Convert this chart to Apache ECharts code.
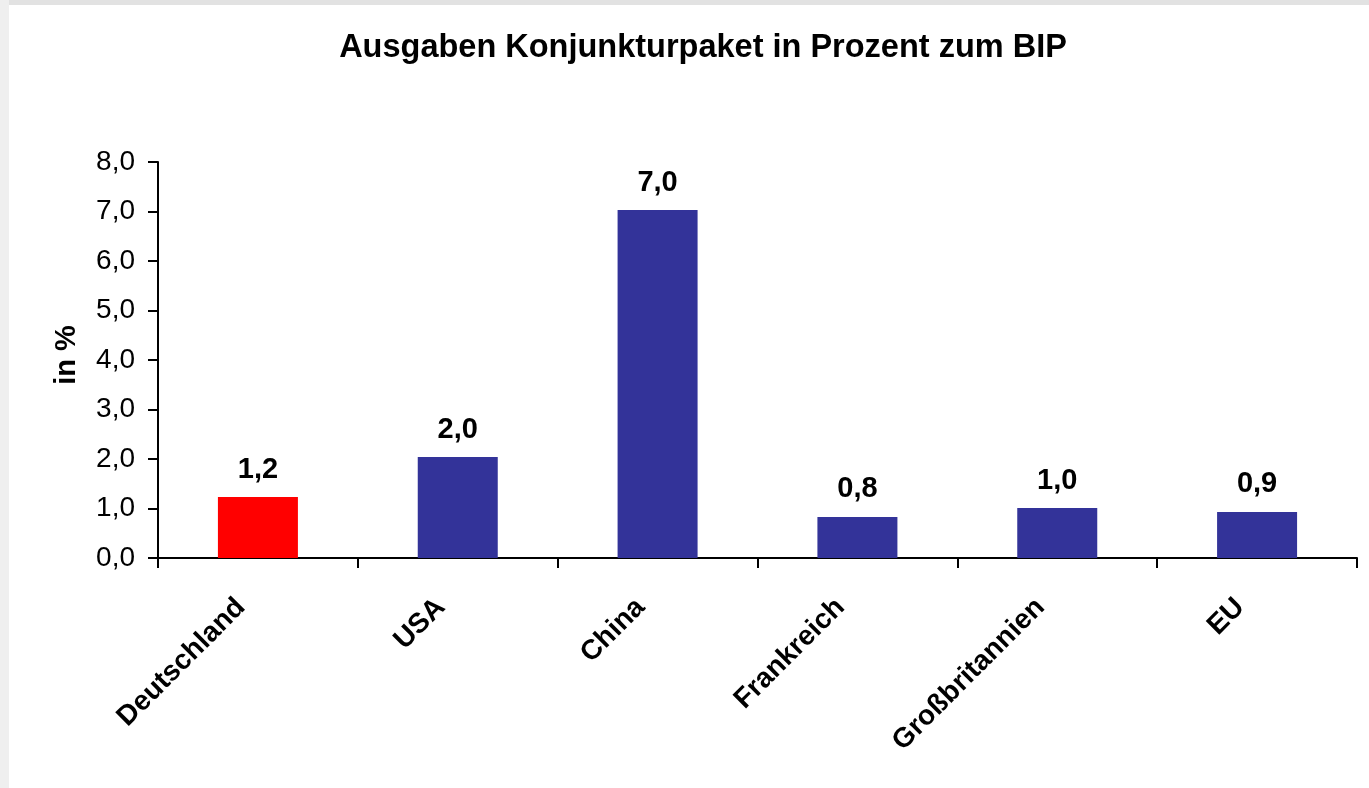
<!DOCTYPE html>
<html>
<head>
<meta charset="utf-8">
<script src="https://cdn.jsdelivr.net/npm/echarts@6/dist/echarts.min.js"></script>
<style>
  html, body { margin: 0; padding: 0; background: #fff; }
  #main { width: 1369px; height: 788px; }
</style>
</head>
<body>
<div id="main"></div>
<script>
// Ausgaben Konjunkturpaket in % zum BIP
var laender = ['Deutschland', 'USA', 'China', 'Frankreich', 'Großbritannien', 'EU'];
var werte = [1.23, 2.04, 7.03, 0.83, 1.01, 0.93];
var farben = ['#ff0000', '#333399', '#333399', '#333399', '#333399', '#333399'];

function komma(v) {
    return Number(v).toFixed(1).replace('.', ',');
}

var myChart = echarts.init(document.getElementById('main'));
myChart.setOption({
    animation: false,
    backgroundColor: '#ffffff',
    textStyle: { fontFamily: 'Liberation Sans, Arial, sans-serif' },
    graphic: [
        { type: 'rect', left: 0, top: 0, shape: { width: 1369, height: 5 }, style: { fill: '#e2e2e2' } },
        { type: 'rect', left: 0, top: 0, shape: { width: 9, height: 788 }, style: { fill: '#efefef' } }
    ],
    title: {
        text: 'Ausgaben Konjunkturpaket in Prozent zum BIP',
        left: 698,
        top: 27,
        textAlign: 'center',
        textStyle: { fontSize: 32.5, fontWeight: 'bold', color: '#000' }
    },
    grid: { left: 158, right: 12, top: 162, bottom: 230, containLabel: false },
    xAxis: {
        type: 'category',
        data: laender,
        axisLine: { lineStyle: { color: '#000', width: 2 } },
        axisTick: { show: true, length: 10, lineStyle: { color: '#000', width: 2 } },
        axisLabel: {
            rotate: 45,
            margin: 28,
            padding: [0, 24, 0, 0],
            interval: 0,
            color: '#000',
            fontSize: 28,
            fontWeight: 'bold'
        }
    },
    yAxis: {
        type: 'value',
        min: 0,
        max: 8,
        interval: 1,
        name: 'in %',
        nameLocation: 'middle',
        nameGap: 77,
        nameTextStyle: { fontSize: 29, fontWeight: 'bold', color: '#000', padding: [0, 0, 0, 10] },
        axisLine: { show: true, lineStyle: { color: '#000', width: 2 } },
        axisTick: { show: true, length: 10, lineStyle: { color: '#000', width: 2 } },
        splitLine: { show: false },
        axisLabel: {
            margin: 23,
            color: '#000',
            fontSize: 28,
            formatter: komma
        }
    },
    series: [{
        type: 'bar',
        data: werte.map(function (v, i) {
            return { value: v, itemStyle: { color: farben[i] } };
        }),
        barWidth: 80,
        label: {
            show: true,
            position: 'top',
            distance: 13,
            color: '#000',
            fontSize: 29,
            fontWeight: 'bold',
            formatter: function (p) { return komma(p.value); }
        }
    }]
});
</script>
</body>
</html>
